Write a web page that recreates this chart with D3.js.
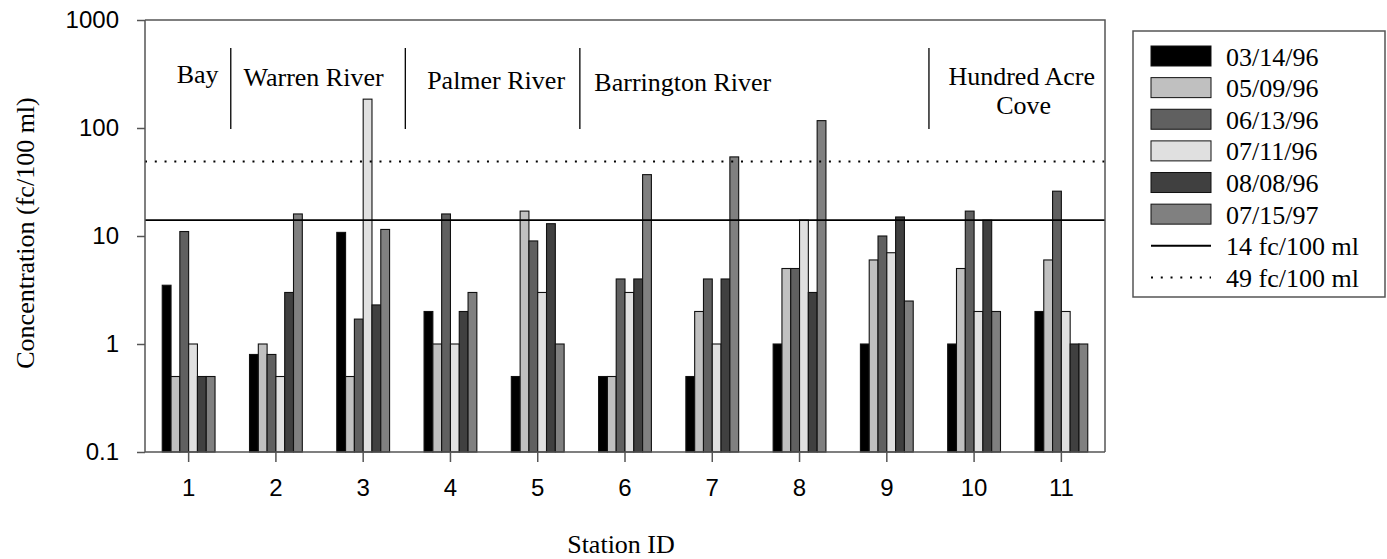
<!DOCTYPE html>
<html>
<head>
<meta charset="utf-8">
<script src="https://cdn.jsdelivr.net/npm/d3@7"></script>
<style>
  body { margin: 0; background: #fff; }
  .serif { font-family: "Liberation Serif", "Times New Roman", serif; }
  .sans { font-family: "Liberation Sans", Arial, sans-serif; }
</style>
</head>
<body>
<svg id="chart" width="1387" height="559"></svg>
<script>
var stations = ["1", "2", "3", "4", "5", "6", "7", "8", "9", "10", "11"];
var dates = ["03/14/96", "05/09/96", "06/13/96", "07/11/96", "08/08/96", "07/15/97"];

// fecal coliform, fc/100 ml, one array per sampling date
var s031496 = [3.5, 0.8, 10.8, 2, 0.5, 0.5, 0.5, 1, 1, 1, 2];
var s050996 = [0.5, 1, 0.5, 1, 17, 0.5, 2, 5, 6, 5, 6];
var s061396 = [11, 0.8, 1.7, 16, 9, 4, 4, 5, 10, 17, 26];
var s071196 = [1, 0.5, 185, 1, 3, 3, 1, 14, 7, 2, 2];
var s080896 = [0.5, 3, 2.3, 2, 13, 4, 4, 3, 15, 14, 1];
var s071597 = [0.5, 16, 11.5, 3, 1, 37, 54, 117, 2.5, 2, 1];
var seriesValues = [s031496, s050996, s061396, s071196, s080896, s071597];

var limits = [14, 49];
var limitLabels = ["14 fc/100 ml", "49 fc/100 ml"];
var yTicks = [0.1, 1, 10, 100, 1000];
var yTickLabels = ["0.1", "1", "10", "100", "1000"];

// waterbody groups along the x axis
var regionNames = ["Bay", "Warren River", "Palmer River", "Barrington River", "Hundred Acre Cove"];
var regionFirst = ["1", "2", "4", "6", "10"];
var regionLast = ["1", "3", "5", "9", "11"];

var fills = ["#000000", "#c0c0c0", "#606060", "#e0e0e0", "#404040", "#808080"];

var svg = d3.select("#chart"),
  plotLeft = 145, plotRight = 1105, plotTop = 20, plotBottom = 452;

var x = d3.scaleBand().domain(stations).range([plotLeft, plotRight]).paddingInner(0.395).paddingOuter(0.1975);
var xStep = x.step();
var gapHalf = xStep * x.paddingInner() / 2;
var x1 = d3.scaleBand().domain(dates).range([0, x.bandwidth()]);
var y = d3.scaleLog().domain([0.1, 1000]).range([plotBottom, plotTop]);

// bars
var rows = [];
stations.forEach(function(s, i) {
  dates.forEach(function(d, j) {
    rows.push({ station: s, date: d, k: j, value: seriesValues[j][i] });
  });
});

svg.append("g").selectAll("rect").data(rows).enter().append("rect")
  .attr("x", function(d) { return x(d.station) + x1(d.date); })
  .attr("y", function(d) { return y(d.value); })
  .attr("width", x1.bandwidth())
  .attr("height", function(d) { return y(0.1) - y(d.value); })
  .attr("fill", function(d) { return fills[d.k]; })
  .attr("stroke", "#111")
  .attr("stroke-width", 1.1);

// limit lines
svg.append("line")
  .attr("x1", plotLeft).attr("x2", plotRight)
  .attr("y1", y(limits[0])).attr("y2", y(limits[0]))
  .attr("stroke", "#000").attr("stroke-width", 1.8);
svg.append("line")
  .attr("x1", plotLeft).attr("x2", plotRight)
  .attr("y1", y(limits[1])).attr("y2", y(limits[1]))
  .attr("stroke", "#000").attr("stroke-width", 2)
  .attr("stroke-dasharray", "2,7.77");

// frame (top and right)
svg.append("path")
  .attr("d", "M" + plotLeft + "," + plotTop + "H" + plotRight + "V" + plotBottom)
  .attr("fill", "none").attr("stroke", "#555").attr("stroke-width", 1.5);

// y axis
var yAxis = svg.append("g").attr("transform", "translate(" + plotLeft + ",0)")
  .call(d3.axisLeft(y).tickValues(yTicks).tickSize(8).tickPadding(18)
    .tickFormat(function(d, i) { return yTickLabels[i]; }));
yAxis.select(".domain").attr("d", "M0," + plotTop + "V" + plotBottom);
yAxis.selectAll("path, line").attr("stroke", "#555").attr("stroke-width", 1.5);
yAxis.attr("font-family", null).attr("font-size", null);
yAxis.selectAll("text").attr("class", "sans").style("font-size", "24px").attr("fill", "#000");

// x axis
var xAxis = svg.append("g").attr("transform", "translate(0," + plotBottom + ")")
  .call(d3.axisBottom(x).tickSize(10).tickPadding(17));
xAxis.select(".domain").attr("d", "M" + plotLeft + ",0H" + plotRight);
xAxis.selectAll("path, line").attr("stroke", "#555").attr("stroke-width", 1.5);
xAxis.attr("font-family", null).attr("font-size", null);
xAxis.selectAll("text").attr("class", "sans").style("font-size", "24px").attr("fill", "#000");

// region dividers and names
var dividerAfter = regionLast.slice(0, 4);
svg.append("g").selectAll("line").data(dividerAfter).enter().append("line")
  .attr("x1", function(s) { return x(s) + x.bandwidth() + gapHalf - 1.5; })
  .attr("x2", function(s) { return x(s) + x.bandwidth() + gapHalf - 1.5; })
  .attr("y1", 48).attr("y2", 129)
  .attr("stroke", "#000").attr("stroke-width", 1.3);

var labelDx = [9, -6, 2, 0, 4];
var labelY = [83, 85.5, 89, 90.5, 85];
regionNames.forEach(function(name, i) {
  var a = x(regionFirst[i]) + x.bandwidth() / 2,
    b = x(regionLast[i]) + x.bandwidth() / 2;
  var t = svg.append("text").attr("class", "serif").style("font-size", "26px").attr("fill", "#000");
  if (name === "Barrington River") {
    t.attr("x", x(regionFirst[i]) - gapHalf + 13).attr("y", labelY[i])
      .attr("text-anchor", "start").text(name);
  } else if (name === "Hundred Acre Cove") {
    t.attr("text-anchor", "middle");
    t.append("tspan").attr("x", (a + b) / 2 + labelDx[i]).attr("y", labelY[i]).text("Hundred Acre");
    t.append("tspan").attr("x", (a + b) / 2 + labelDx[i] + 2).attr("y", labelY[i] + 28.5).text("Cove");
  } else {
    t.attr("x", (a + b) / 2 + labelDx[i]).attr("y", labelY[i])
      .attr("text-anchor", "middle").text(name);
  }
});

// axis titles
svg.append("text").attr("class", "serif").style("font-size", "26px")
  .attr("transform", "translate(34,233) rotate(-90)")
  .attr("text-anchor", "middle").text("Concentration (fc/100 ml)");
svg.append("text").attr("class", "serif").style("font-size", "26px")
  .attr("x", (plotLeft + plotRight) / 2 - 4).attr("y", 553)
  .attr("text-anchor", "middle").text("Station ID");

// legend
var legend = svg.append("g");
legend.append("rect")
  .attr("x", 1133).attr("y", 31).attr("width", 252).attr("height", 266)
  .attr("fill", "#fff").attr("stroke", "#555").attr("stroke-width", 1.5);

var legendItems = dates.concat(limitLabels);
var rowY = d3.scalePoint().domain(legendItems).range([56, 277.4]);

legendItems.forEach(function(label, i) {
  var cy = rowY(label);
  if (i < dates.length) {
    legend.append("rect")
      .attr("x", 1151).attr("y", cy - 10).attr("width", 60).attr("height", 20)
      .attr("fill", fills[i]).attr("stroke", "#111").attr("stroke-width", 1);
  } else {
    legend.append("line")
      .attr("x1", 1151).attr("x2", 1211).attr("y1", cy).attr("y2", cy)
      .attr("stroke", "#000").attr("stroke-width", i === dates.length ? 1.8 : 2)
      .attr("stroke-dasharray", i === dates.length ? null : "2,7.77");
  }
  legend.append("text").attr("class", "serif").style("font-size", "26px")
    .attr("x", 1226).attr("y", cy + 9.5).text(label);
});
</script>
</body>
</html>
